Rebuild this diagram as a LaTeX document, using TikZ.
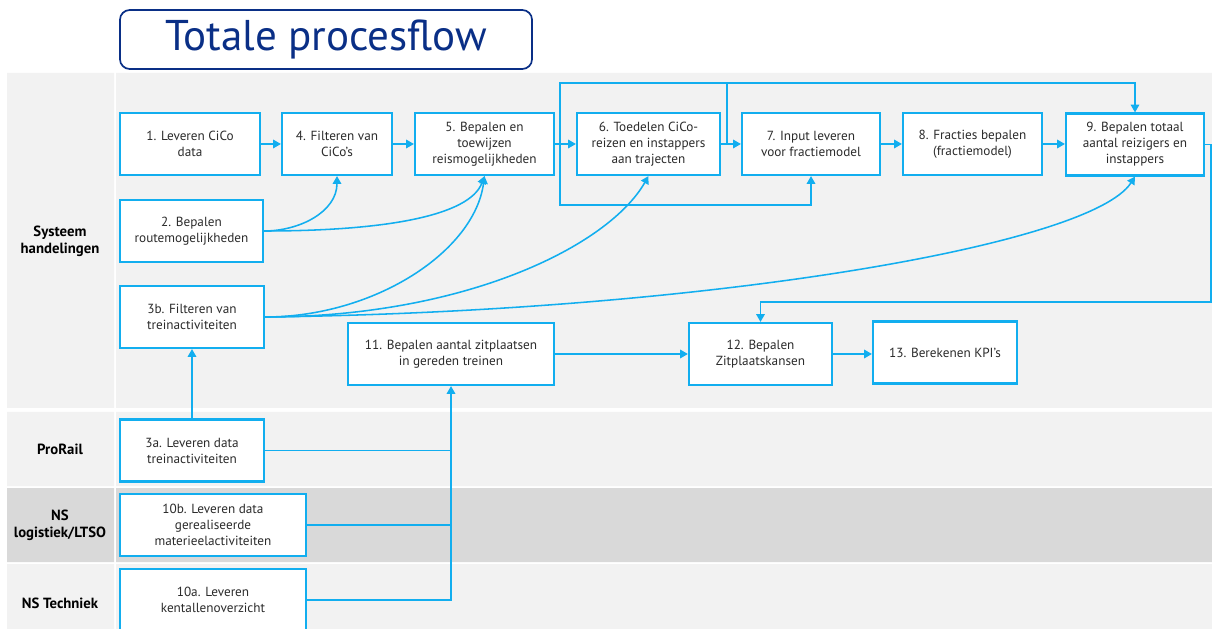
\documentclass[tikz,border=0pt]{standalone}
\usepackage{fontspec}
\setmainfont{PT Sans}
\usetikzlibrary{arrows.meta}

\definecolor{nsblue}{HTML}{12AEEF}
\definecolor{nsdark}{HTML}{0A2F86}
\definecolor{lanegrey}{HTML}{F2F2F2}
\definecolor{lanedark}{HTML}{D9D9D9}
\definecolor{boxtext}{HTML}{2B2B2B}

\tikzset{
  stap/.style={draw=nsblue, line width=1.5pt, fill=white, align=center, inner sep=2pt,
    minimum height=1.55cm, text=boxtext, font=\fontsize{9.4}{11.4}\selectfont},
  lijn/.style={draw=nsblue, line width=1.1pt},
  baan/.style={font=\bfseries\fontsize{10.5}{12.2}\selectfont, align=center},
}

\begin{document}
\begin{tikzpicture}[x=0.025cm, y=-0.025cm, >={Triangle[length=5.5pt,width=6pt]}]
        \useasboundingbox (0,0) rectangle (1212,629);
        \clip (0,0) rectangle (1212,629);
        \fill[lanegrey] (7,73) rectangle (114,408) (116,73) rectangle (1212,408);
        \fill[lanegrey] (7,412) rectangle (114,486) (116,412) rectangle (1212,486);
        \fill[lanedark] (7,488) rectangle (114,562) (116,488) rectangle (1212,562);
        \fill[lanegrey] (7,564) rectangle (114,629) (116,564) rectangle (1212,629);

        \node [draw=nsdark, line width=1.2pt, rounded corners=7pt, minimum width=10.3cm,
          minimum height=1.475cm, text=nsdark, font=\fontsize{30.6}{34}\selectfont] (titel) at (326,39.5) {Totale procesflow};

        \node [baan] (sys) at (60,241) {Systeem\\handelingen};
        \node [baan] (prorail) at (60,449) {ProRail};
        \node [baan] (lts) at (60,525) {NS\\logistiek/LTSO};
        \node [baan] (tech) at (60,603) {NS Techniek};

        \node [stap, minimum width=3.5cm] (1) at (190,144) {1. Leveren CiCo\\data};
        \node [stap, minimum width=2.75cm] (4) at (337,144) {4. Filteren van\\CiCo’s};
        \node [stap, minimum width=3.475cm] (5) at (484.5,144) {5. Bepalen en\\toewijzen\\reismogelijkheden};
        \node [stap, minimum width=3.575cm] (6) at (648.5,144) {6. Toedelen CiCo-\\reizen en instappers\\aan trajecten};
        \node [stap, minimum width=3.45cm] (7) at (811,144) {7. Input leveren\\voor fractiemodel};
        \node [stap, minimum width=3.475cm] (8) at (972.5,144) {8. Fracties bepalen\\(fractiemodel)};
        \node [stap, minimum width=3.45cm] (9) at (1135,144.5) {9. Bepalen totaal\\aantal reizigers en\\instappers};
        \node [stap, minimum width=3.575cm] (2) at (191.5,231) {2. Bepalen\\routemogelijkheden};
        \node [stap, minimum width=3.6cm] (3b) at (192,317) {3b. Filteren van\\treinactiviteiten};
        \node [stap, minimum width=5.15cm] (11) at (451,354) {11. Bepalen aantal zitplaatsen\\in gereden treinen};
        \node [stap, minimum width=3.575cm] (12) at (760.5,354) {12. Bepalen\\Zitplaatskansen};
        \node [stap, minimum width=3.6cm] (13) at (945,352.5) {13. Berekenen KPI’s};
        \node [stap, minimum width=3.6cm] (3a) at (192,450.5) {3a. Leveren data\\treinactiviteiten};
        \node [stap, minimum width=4.65cm] (10b) at (213,525) {10b. Leveren data\\gerealiseerde\\materieelactiviteiten};
        \node [stap, minimum width=4.65cm] (10a) at (213,600) {10a. Leveren\\kentallenoverzicht};

        \coordinate (j5) at (560,144);
        \coordinate (j6) at (727,144);
        \coordinate (boven) at (560,83);
        \coordinate (onder) at (560,205);
        \coordinate (rechts) at (1211,302);

        \draw[lijn,->] (1) -- (4);
        \draw[lijn,->] (4) -- (5);
        \draw[lijn,->] (5) -- (6);
        \draw[lijn,->] (6) -- (7);
        \draw[lijn,->] (7) -- (8);
        \draw[lijn,->] (8) -- (9.west |- 8);
        \draw[lijn,->] (j5) -- (boven) -| (9.north);
        \draw[lijn] (j6) -- (j6 |- boven);
        \draw[lijn,->] (j5) -- (onder) -| (7.south);
        \draw[lijn,->] (9.east) -| (rechts) -| (12.north);

        \draw[lijn,->] (2.east) to [out=0, in=-90] (4.south);
        \draw[lijn,->] (2.east) .. controls +(120,0) and +(-15,40) .. (5.south);
        \draw[lijn,->] (3b.east) .. controls +(110,0) and +(-10,75) .. (5.south);
        \draw[lijn,->] (3b.east) .. controls +(200,0) and +(-40,70) .. (6.south);
        \draw[lijn,->] (3b.east) .. controls +(430,-5) and +(-45,70) .. (9.south);

        \draw[lijn,->] (3a) -- (3b);
        \draw[lijn,->] (11) -- (12);
        \draw[lijn,->] (12) -- (13.west |- 12);
        \draw[lijn] (3a.east) -- (3a.east -| 11.south);
        \draw[lijn] (10b.east) -- (10b.east -| 11.south);
        \draw[lijn,->] (10a.east) -| (11.south);
      \end{tikzpicture}
\end{document}
